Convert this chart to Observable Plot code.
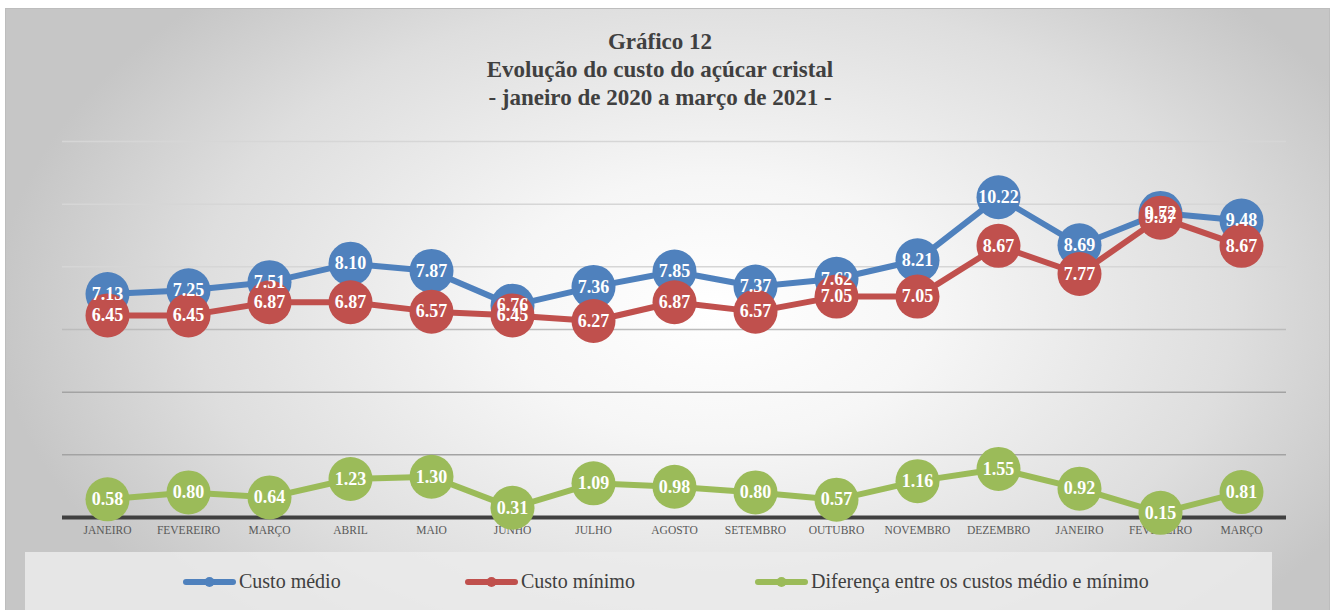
<!DOCTYPE html>
<html>
<head>
<meta charset="utf-8">
<script src="https://cdn.jsdelivr.net/npm/d3@7"></script>
<script src="https://cdn.jsdelivr.net/npm/@observablehq/plot@0.6"></script>
<style>
  html, body { margin: 0; padding: 0; background: #fff; }
  body { width: 1337px; height: 610px; position: relative; overflow: hidden; font-family: "Liberation Serif", serif; }
  #frame { position: absolute; left: 5px; top: 8px; width: 1323px; height: 610px;
    border: 1px solid #bdbdbd;
    background: radial-gradient(ellipse 720px 440px at 710px 300px, #ffffff 0%, #f6f6f6 30%, #dedede 72%, #c6c6c6 100%); }
  #title { position: absolute; left: 0; top: 28px; width: 1320px; text-align: center; font-weight: bold; font-size: 23px; line-height: 28px; color: #404040; }
  #chart { position: absolute; left: 0; top: 0; }
  #legend { position: absolute; left: 25px; top: 552px; width: 1247px; height: 60px; background: rgba(235,235,235,0.85); }
  .item { position: absolute; top: 18px; display: flex; align-items: center; font-size: 20px; color: #404040; }
  .item svg { margin-right: 3px; }
</style>
</head>
<body>
<div id="frame"></div>
<div id="title">Gráfico 12<br>Evolução do custo do açúcar cristal<br>- janeiro de 2020 a março de 2021 -</div>
<div id="chart"></div>
<div id="legend"></div>
<script>
const months = ["JANEIRO","FEVEREIRO","MARÇO","ABRIL","MAIO","JUNHO","JULHO","AGOSTO","SETEMBRO","OUTUBRO","NOVEMBRO","DEZEMBRO","JANEIRO","FEVEREIRO","MARÇO"];
const custoMedio = [7.13,7.25,7.51,8.10,7.87,6.76,7.36,7.85,7.37,7.62,8.21,10.22,8.69,9.72,9.48];
const custoMinimo = [6.45,6.45,6.87,6.87,6.57,6.45,6.27,6.87,6.57,7.05,7.05,8.67,7.77,9.57,8.67];
const diferenca = [0.58,0.80,0.64,1.23,1.30,0.31,1.09,0.98,0.80,0.57,1.16,1.55,0.92,0.15,0.81];
const seriesNames = ["Custo médio","Custo mínimo","Diferença entre os custos médio e mínimo"];
const seriesColors = ["#4F81BD","#C0504D","#9BBB59"];
const gridValues = [2,4,6,8,10,12];

const seriesValues = [custoMedio, custoMinimo, diferenca];
const data = seriesValues.flatMap((vals, s) => vals.map((v, i) => ({i, v, s: seriesNames[s]})));
const idx = months.map((_, i) => i);

const color = {domain: seriesNames, range: seriesColors};

const plot = Plot.plot({
  width: 1337,
  height: 545,
  marginLeft: 62,
  marginRight: 51,
  marginTop: 141,
  marginBottom: 28,
  style: {background: "transparent", fontFamily: "Liberation Serif, serif"},
  x: {type: "point", domain: idx, padding: 0.5, label: null, tickSize: 0, tickPadding: 8,
      tickFormat: i => months[i]},
  y: {domain: [0, 12], axis: null},
  color,
  marks: [
    Plot.ruleY(gridValues, {stroke: d => d >= 8 ? "#d6d6d6" : d >= 6 ? "#bcbcbc" : "#a3a3a3", strokeWidth: 1.5}),
    Plot.ruleY([0], {stroke: "#404040", strokeWidth: 4}),
    Plot.axisX({tickSize: 0, tickPadding: 8, fontSize: 11.5, fill: "#595959", tickFormat: i => months[i]}),
    Plot.line(data, {x: "i", y: "v", z: "s", stroke: "s", strokeWidth: 6}),
    Plot.dot(data, {x: "i", y: "v", fill: "s", r: 22, stroke: null}),
    Plot.text(data, {x: "i", y: "v", text: d => d.v.toFixed(2), fill: "white", fontWeight: "bold", fontSize: 18})
  ]
});
document.getElementById("chart").appendChild(plot);

// legend
const legend = document.getElementById("legend");
const legendX = [158, 440, 730];
seriesNames.forEach((name, k) => {
  const div = document.createElement("div");
  div.className = "item";
  div.style.left = legendX[k] + "px";
  div.innerHTML = `<svg width="53" height="12"><line x1="3" x2="50" y1="6" y2="6" stroke="${seriesColors[k]}" stroke-width="6" stroke-linecap="round"/><circle cx="26.5" cy="6" r="5" fill="${seriesColors[k]}"/></svg><span>${name}</span>`;
  legend.appendChild(div);
});
</script>
</body>
</html>
